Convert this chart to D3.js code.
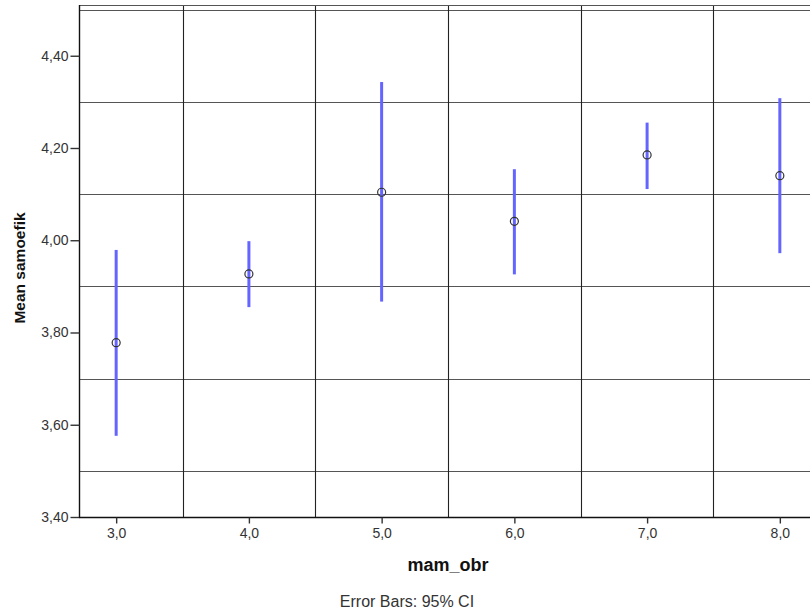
<!DOCTYPE html>
<html>
<head>
<meta charset="utf-8">
<script src="https://cdn.jsdelivr.net/npm/d3@7"></script>
<style>
  html, body { margin: 0; padding: 0; background: #fff; }
  svg { display: block; font-family: "Liberation Sans", Arial, sans-serif; }
</style>
</head>
<body>
<script>
// mam_obr groups and mean samoefik with 95% confidence interval bounds
const categories = [3.0, 4.0, 5.0, 6.0, 7.0, 8.0];
const means      = [3.778, 3.927, 4.104, 4.041, 4.185, 4.140];
const ciLower    = [3.576, 3.855, 3.867, 3.926, 4.111, 3.972];
const ciUpper    = [3.979, 3.998, 4.343, 4.154, 4.255, 4.308];
const yTicks     = [3.4, 3.6, 3.8, 4.0, 4.2, 4.4];
const yGrid      = [3.5, 3.7, 3.9, 4.1, 4.3, 4.5];
const xGrid      = [3.5, 4.5, 5.5, 6.5, 7.5];

const W = 810, H = 613;
const svg = d3.select("body").append("svg").attr("width", W).attr("height", H);

const plotLeft = 79, plotRight = 817, plotTop = 5, plotBottom = 517;
const x = d3.scaleLinear().domain([2.72, 8.28]).range([plotLeft, plotRight]);
const y = d3.scaleLinear().domain([3.4, 4.51]).range([plotBottom, plotTop]);

const loc = d3.formatLocale({ decimal: ",", thousands: ".", grouping: [3], currency: ["", ""] });

// grid
const grid = svg.append("g");
grid.selectAll("line.h").data(yGrid).join("line")
  .attr("x1", plotLeft).attr("x2", plotRight)
  .attr("y1", d => Math.round(y(d)) + 0.5).attr("y2", d => Math.round(y(d)) + 0.5)
  .attr("stroke", "#555").attr("stroke-width", 1.2);
grid.selectAll("line.v").data(xGrid).join("line")
  .attr("y1", plotTop).attr("y2", plotBottom)
  .attr("x1", d => Math.round(x(d)) + 0.5).attr("x2", d => Math.round(x(d)) + 0.5)
  .attr("stroke", "#222").attr("stroke-width", 1.1);
// top frame
grid.append("line").attr("x1", plotLeft).attr("x2", plotRight)
  .attr("y1", plotTop + 0.5).attr("y2", plotTop + 0.5).attr("stroke", "#555").attr("stroke-width", 1.2);

// axes
const yAxis = d3.axisLeft(y).tickValues(yTicks).tickFormat(loc.format(".2f")).tickSize(9).tickPadding(2);
const gy = svg.append("g").attr("transform", `translate(${plotLeft + 0.5},0)`).call(yAxis);
gy.select(".domain").attr("d", `M0,${plotTop}V${plotBottom}`).attr("stroke", "#111").attr("stroke-width", 1.4);

const xAxis = d3.axisBottom(x).tickValues(categories).tickFormat(loc.format(".1f")).tickSize(6).tickPadding(5);
const gx = svg.append("g").attr("transform", `translate(0,${plotBottom + 0.5})`).call(xAxis);
gx.select(".domain").attr("d", `M${plotLeft},0H${plotRight}`).attr("stroke", "#111").attr("stroke-width", 1.4);

[gy, gx].forEach(g => {
  g.selectAll(".tick line").attr("stroke", "#333").attr("stroke-width", 1.4);
  g.selectAll(".tick text").attr("fill", "#333").style("font-size", "14px")
    .style("font-family", "'Liberation Sans', Arial, sans-serif");
});

// error bars
svg.append("g").selectAll("line").data(categories).join("line")
  .attr("x1", (d) => x(d)).attr("x2", (d) => x(d))
  .attr("y1", (d, i) => y(ciLower[i])).attr("y2", (d, i) => y(ciUpper[i]))
  .attr("stroke", "#6464ff").attr("stroke-width", 3);

// means
svg.append("g").selectAll("circle").data(categories).join("circle")
  .attr("cx", d => x(d)).attr("cy", (d, i) => y(means[i])).attr("r", 4)
  .attr("fill", "none").attr("stroke", "#333").attr("stroke-width", 1.2);

// titles
svg.append("text").attr("x", (plotLeft + plotRight) / 2).attr("y", 571)
  .attr("text-anchor", "middle").style("font-size", "18px").style("font-weight", "bold")
  .attr("fill", "#111").text("mam_obr");
svg.append("text").attr("transform", `translate(25,268) rotate(-90)`)
  .attr("text-anchor", "middle").style("font-size", "15.5px").style("font-weight", "bold")
  .attr("fill", "#111").text("Mean samoefik");
svg.append("text").attr("x", 407).attr("y", 607)
  .attr("text-anchor", "middle").style("font-size", "16px")
  .attr("fill", "#333").text("Error Bars: 95% CI");
</script>
</body>
</html>
